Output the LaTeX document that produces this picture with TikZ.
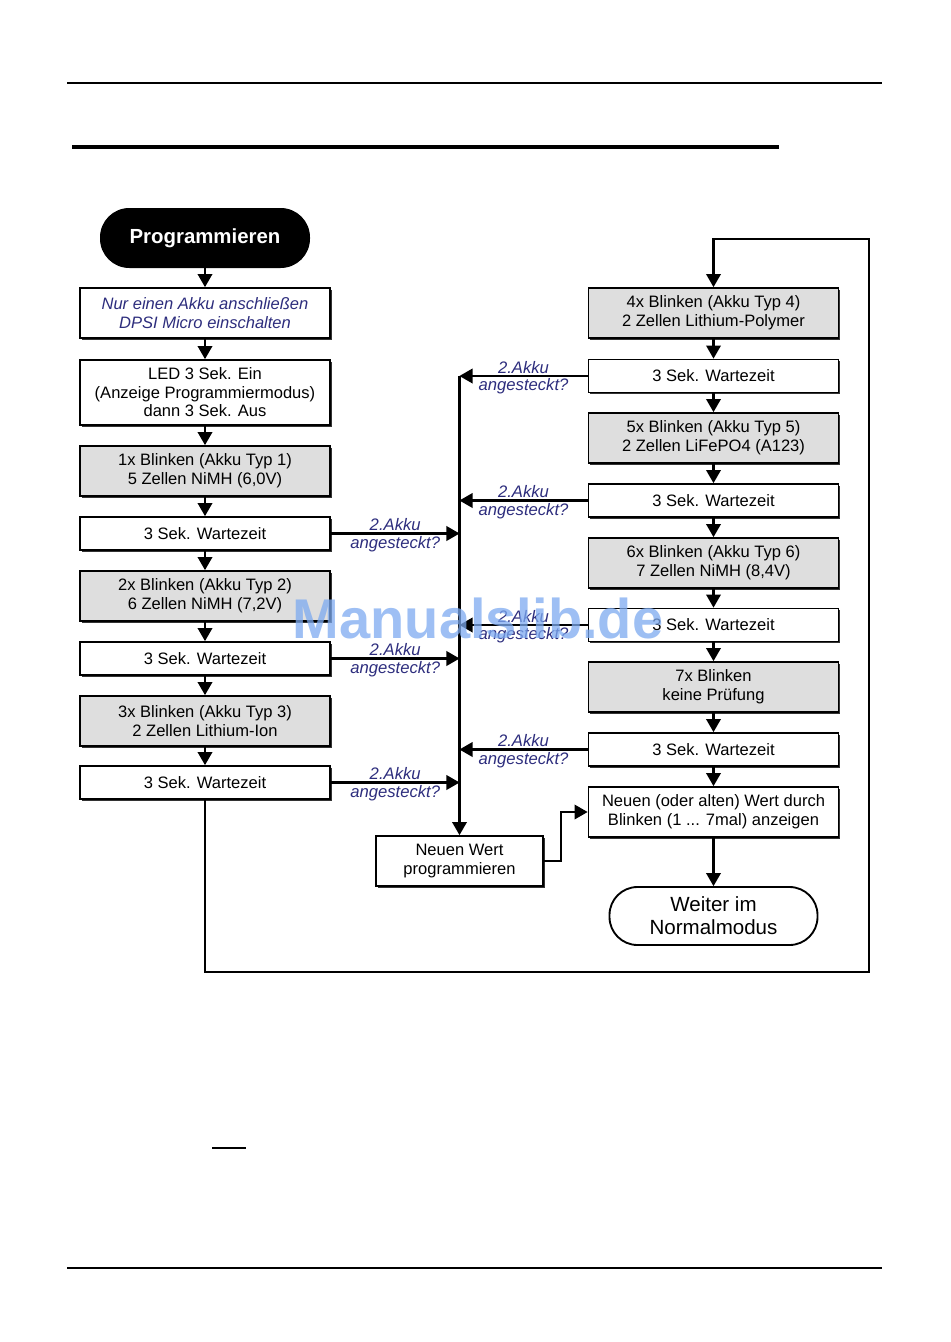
\documentclass[tikz,border=0pt]{standalone}
\usepackage{fontspec}
\setmainfont{Liberation Sans}
\usetikzlibrary{arrows,positioning,calc,shadows}

\definecolor{askblue}{RGB}{45,45,125}
\definecolor{typgray}{RGB}{222,222,222}
\definecolor{markblue}{RGB}{125,170,240}

\begin{document}
\begin{tikzpicture}[x=0.75pt, y=-0.75pt,
            every node/.style={inner sep=0pt, align=center},
            box/.style={draw, line width=1.4pt, fill=white, minimum width=187.5pt,
                minimum height=37.5pt, font=\fontsize{12.4}{14.3}\selectfont,
                drop shadow={shadow xshift=1.3pt, shadow yshift=-1.3pt, fill=black!80, opacity=1}},
            wait/.style={box, minimum height=24.75pt},
            typ/.style={box, fill=typgray},
            start/.style={fill=black, text=white, rounded corners=22pt, minimum width=157.5pt,
                minimum height=45pt, font=\fontsize{15.3}{17}\selectfont\bfseries},
            stop/.style={draw, line width=1.4pt, rounded corners=21pt, minimum width=156pt,
                minimum height=43.5pt, font=\fontsize{15.4}{17.2}\selectfont},
            ask/.style={inner sep=1pt, text=askblue, font=\fontsize{12.5}{14}\selectfont\itshape},
            arr/.style={draw, line width=1.7pt, -triangle 60}]
        \useasboundingbox (0,0) rectangle (950,1342);

        % page rules
        \draw[line width=2.2pt] (67,83) -- (882,83);
        \draw[line width=3.3pt] (72,147) -- (779,147);
        \draw[line width=1.5pt] (212,1148) -- (246,1148);
        \draw[line width=1.5pt] (67,1268) -- (882,1268);

        % left column
        \node[start] (prog) at (205,238) {Programmieren};
        \node[box, text=askblue, font=\fontsize{12.4}{14.3}\selectfont\itshape] (akku) at (205,313)
            {Nur einen Akku anschließen\\DPSI Micro einschalten};
        \node[box, minimum height=48.75pt, font=\fontsize{12.4}{13.9}\selectfont] (led) at (205,392.5)
            {LED 3 Sek. Ein\\(Anzeige Programmiermodus)\\dann 3 Sek. Aus};
        \node[typ] (typ1) at (205,471) {1x Blinken (Akku Typ 1)\\5 Zellen NiMH (6,0V)};
        \node[wait] (w1) at (205,533.5) {3 Sek. Wartezeit};
        \node[typ] (typ2) at (205,596) {2x Blinken (Akku Typ 2)\\6 Zellen NiMH (7,2V)};
        \node[wait] (w2) at (205,658.5) {3 Sek. Wartezeit};
        \node[typ] (typ3) at (205,721) {3x Blinken (Akku Typ 3)\\2 Zellen Lithium-Ion};
        \node[wait] (w3) at (205,782.5) {3 Sek. Wartezeit};

        % right column
        \node[typ] (typ4) at (713.5,313) {4x Blinken (Akku Typ 4)\\2 Zellen Lithium-Polymer};
        \node[wait] (w4) at (713.5,376) {3 Sek. Wartezeit};
        \node[typ] (typ5) at (713.5,438) {5x Blinken (Akku Typ 5)\\2 Zellen LiFePO4 (A123)};
        \node[wait] (w5) at (713.5,500.5) {3 Sek. Wartezeit};
        \node[typ] (typ6) at (713.5,563) {6x Blinken (Akku Typ 6)\\7 Zellen NiMH (8,4V)};
        \node[wait] (w6) at (713.5,625) {3 Sek. Wartezeit};
        \node[typ] (typ7) at (713.5,687) {7x Blinken\\keine Prüfung};
        \node[wait] (w7) at (713.5,749.5) {3 Sek. Wartezeit};
        \node[box] (show) at (713.5,812) {Neuen (oder alten) Wert durch\\Blinken (1 ... 7mal) anzeigen};
        \node[stop] (normal) at (713.5,916) {Weiter im\\Normalmodus};

        \node[box, minimum width=125.25pt] (prognew) at (459.5,861) {Neuen Wert\\programmieren};
        \coordinate (bus) at (459.5,376);
        \coordinate (back) at (869,239);

        % main flow
        \foreach \a/\b in {prog/akku, akku/led, led/typ1, typ1/w1, w1/typ2, typ2/w2, w2/typ3, typ3/w3,
                typ4/w4, w4/typ5, typ5/w5, w5/typ6, typ6/w6, w6/typ7, typ7/w7, w7/show, show/normal}
            \draw[arr] (\a) -- (\b);
        \draw[arr] (w3.south) |- (869,972) -- (back) -| (typ4.north);
        \draw[arr] (bus) -- (prognew.north);
        \draw[arr] (prognew.east) -- ++(17,0) |- (show.west);

        % second battery
        \foreach \w in {w1,w2,w3}
            \draw[arr] (\w.east) -- (\w.east -| bus)
                node[ask, midway, above] (\w up) {2.Akku}
                node[ask, midway, below] (\w dn) {angesteckt?};
        \foreach \w in {w4,w5,w6,w7}
            \draw[arr] (\w.west) -- (\w.west -| bus)
                node[ask, midway, above] (\w up) {2.Akku}
                node[ask, midway, below] (\w dn) {angesteckt?};

        \node[text=markblue, text opacity=0.75, font=\fontsize{42}{44}\selectfont\bfseries] (mark) at (478,618) {Manualslib.de};
\end{tikzpicture}
\end{document}
